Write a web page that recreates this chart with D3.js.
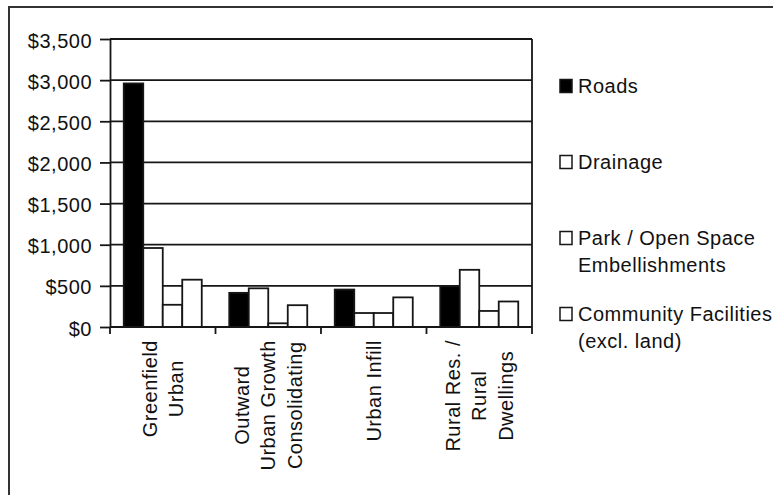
<!DOCTYPE html>
<html>
<head>
<meta charset="utf-8">
<script src="https://cdn.jsdelivr.net/npm/d3@7"></script>
<style>
  html, body { margin: 0; padding: 0; background: #fff; }
  svg { display: block; }
  text { font-family: "Liberation Sans", Arial, sans-serif; font-size: 20px; fill: #111; letter-spacing: 0.5px; }
</style>
</head>
<body>
<svg id="chart" width="773" height="495"></svg>
<script>
// Cost per dwelling by development type
const categories = [
  ["Greenfield", "Urban"],
  ["Outward", "Urban Growth", "Consolidating"],
  ["Urban Infill"],
  ["Rural Res. /", "Rural", "Dwellings"]
];
const seriesNames = ["Roads", "Drainage", "Park / Open Space\nEmbellishments", "Community Facilities\n(excl. land)"];
const seriesFill = ["#000", "#fff", "#fff", "#fff"];
const roads     = [2960, 415, 455, 495];
const drainage  = [960, 470, 170, 695];
const park      = [270, 45, 170, 195];
const community = [575, 265, 360, 310];
const yTicks = [0, 500, 1000, 1500, 2000, 2500, 3000, 3500];

const values = [roads, drainage, park, community];
const catKeys = categories.map((c, i) => i);

const svg = d3.select("#chart");
const ink = "#161616";

// outer frame
svg.append("rect")
  .attr("x", 9).attr("y", 7).attr("width", 820).attr("height", 520)
  .attr("fill", "none").attr("stroke", "#333").attr("stroke-width", 2);

const plot = { left: 110, right: 532, top: 39, bottom: 327 };

const y = d3.scaleLinear().domain([0, 3500]).range([plot.bottom, plot.top]);
const x0 = d3.scaleBand().domain(catKeys).range([plot.left, plot.right]).padding(0);
const groupW = 78;
const x1 = d3.scaleBand().domain(d3.range(values.length)).range([0, groupW]).padding(0);
const groupOffset = (x0.bandwidth() - groupW) / 2;

// horizontal gridlines
svg.append("g").selectAll("line").data(yTicks.filter(d => d > 0)).join("line")
  .attr("x1", plot.left).attr("x2", plot.right)
  .attr("y1", d => y(d)).attr("y2", d => y(d))
  .attr("stroke", ink).attr("stroke-width", 1.8);

// right edge of plot area
svg.append("line")
  .attr("x1", plot.right).attr("x2", plot.right)
  .attr("y1", plot.top).attr("y2", plot.bottom)
  .attr("stroke", ink).attr("stroke-width", 1.8);

// bars
const bars = svg.append("g");
catKeys.forEach(ci => {
  values.forEach((s, si) => {
    bars.append("rect")
      .attr("x", x0(ci) + groupOffset + x1(si))
      .attr("y", y(s[ci]))
      .attr("width", x1.bandwidth())
      .attr("height", y(0) - y(s[ci]))
      .attr("fill", seriesFill[si])
      .attr("stroke", ink).attr("stroke-width", 1.8);
  });
});

// y axis
const yAxis = svg.append("g")
  .attr("transform", `translate(${plot.left},0)`)
  .call(d3.axisLeft(y).tickValues(yTicks).tickSize(10).tickSizeOuter(0).tickPadding(8)
    .tickFormat(d => "$" + d3.format(",")(d)));
yAxis.attr("font-family", null).attr("font-size", null);
yAxis.select(".domain").attr("stroke", ink).attr("stroke-width", 1.8);
yAxis.selectAll(".tick line").attr("stroke", ink).attr("stroke-width", 1.8);
yAxis.selectAll(".tick text")
  .attr("dy", "0.4em")
  .attr("fill", "#111");

// baseline and category boundary ticks
svg.append("line")
  .attr("x1", plot.left).attr("x2", plot.right)
  .attr("y1", y(0)).attr("y2", y(0))
  .attr("stroke", ink).attr("stroke-width", 1.8);
const bounds = catKeys.map(c => x0(c)).concat([plot.right]);
svg.append("g").selectAll("line").data(bounds).join("line")
  .attr("x1", d => d).attr("x2", d => d)
  .attr("y1", y(0)).attr("y2", y(0) + 7)
  .attr("stroke", ink).attr("stroke-width", 1.8);

// rotated, multi-line category labels
const lineH = 26.5, capH = 14, labelTop = 340;
const labels = svg.append("g");
categories.forEach((lines, ci) => {
  const cx = x0(ci) + x0.bandwidth() / 2;
  const blockW = capH + (lines.length - 1) * lineH;
  const nodes = lines.map((t, li) => {
    const bx = cx - blockW / 2 + capH + li * lineH;
    return labels.append("text")
      .attr("text-anchor", "middle")
      .attr("data-bx", bx)
      .text(t);
  });
  const L = d3.max(nodes, n => n.node().getComputedTextLength());
  const cy = labelTop + L / 2;
  nodes.forEach(n => n.attr("transform", `translate(${n.attr("data-bx")},${cy}) rotate(-90)`));
});

// legend
const legendY = d3.scalePoint().domain(d3.range(seriesNames.length)).range([86, 314]);
const legend = svg.append("g");
seriesNames.forEach((name, i) => {
  const cy = legendY(i);
  legend.append("rect")
    .attr("x", 560).attr("y", cy - 6.5).attr("width", 12).attr("height", 13)
    .attr("fill", seriesFill[i]).attr("stroke", ink).attr("stroke-width", 1.5);
  const t = legend.append("text").attr("x", 578).attr("y", cy + 7);
  name.split("\n").forEach((ln, k) => {
    t.append("tspan").attr("x", 578).attr("dy", k === 0 ? 0 : lineH).text(ln);
  });
});
</script>
</body>
</html>
